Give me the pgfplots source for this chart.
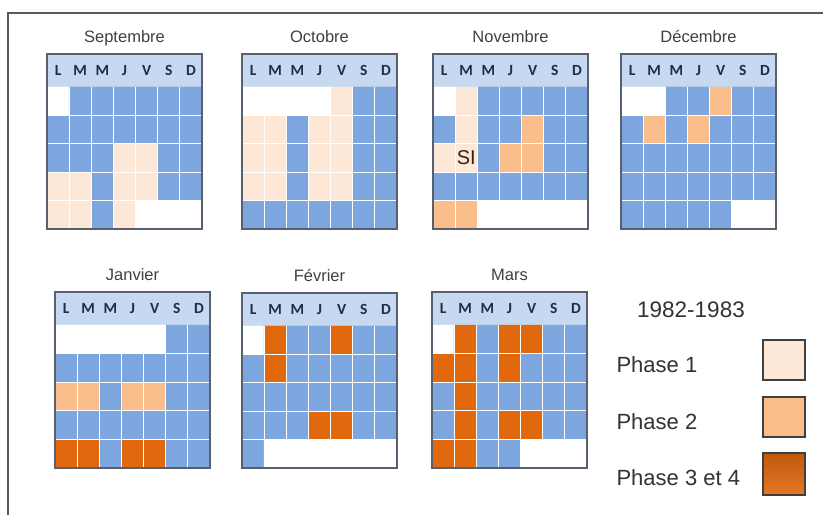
\documentclass[border=0pt]{standalone}
\usepackage{pgfplots}
\pgfplotsset{compat=1.18}
\usepackage{fontspec}
\setmainfont{Liberation Sans}
\newfontfamily\carlito{Carlito}

\definecolor{calblue}{RGB}{125,165,222}
\definecolor{hdr}{RGB}{198,217,241}
\definecolor{pone}{RGB}{253,231,214}
\definecolor{ptwo}{RGB}{250,190,140}
\definecolor{pthree}{RGB}{226,104,14}
\definecolor{boxline}{RGB}{88,96,112}
\definecolor{hdrtext}{RGB}{31,45,70}

% codes: 0 vide, 1 phase 1, 2 phase 2, 3 phase 3 et 4, 4 jour normal
\pgfplotsset{
  cal/.style={
    scale only axis, width=155pt, height=175pt,
    xmin=-0.5, xmax=6.5, ymin=-1.66, ymax=4.5, y dir=reverse,
    enlargelimits=false, xtick=\empty, ytick=\empty,
    axis on top, axis line style={draw=boxline, line width=1.4pt},
    anchor=north west,
    title style={font=\fontsize{16.5}{19}\selectfont, text=black!75,
      at={(0.5,1)}, anchor=south, text depth=3pt, yshift=-1pt},
    colormap={phases}{rgb255=(255,255,255) rgb255=(253,231,214)
      rgb255=(250,190,140) rgb255=(226,104,14) rgb255=(125,165,222)},
    colormap access=direct,
  },
  month/.style={matrix plot*, mesh/cols=7, mesh/rows=5, point meta=explicit},
}
\tikzset{hdrlbl/.style={font=\carlito\bfseries\fontsize{15.5}{17}\selectfont, text=hdrtext}}

\newcommand{\calhead}{%
  \fill[hdr] (axis cs:-0.5,-1.66) rectangle (axis cs:6.5,-0.5);
  \node[hdrlbl] at (axis cs:0,-1.08) {L};
  \node[hdrlbl] at (axis cs:1,-1.08) {M};
  \node[hdrlbl] at (axis cs:2,-1.08) {M};
  \node[hdrlbl] at (axis cs:3,-1.08) {J};
  \node[hdrlbl] at (axis cs:4,-1.08) {V};
  \node[hdrlbl] at (axis cs:5,-1.08) {S};
  \node[hdrlbl] at (axis cs:6,-1.08) {D};
}
\newcommand{\calgrid}{%
  \pgfplotsinvokeforeach{0.5,1.5,2.5,3.5,4.5,5.5}{
    \draw[white, line width=0.9pt] (axis cs:##1,-0.5) -- (axis cs:##1,4.5);}
  \pgfplotsinvokeforeach{0.5,1.5,2.5,3.5}{
    \draw[white, line width=0.9pt] (axis cs:-0.5,##1) -- (axis cs:6.5,##1);}
}

\begin{document}
\begin{tikzpicture}
\useasboundingbox (0,0) rectangle (823pt,-515pt);
\fill[white] (0,0) rectangle (823pt,-515pt);
\draw[black!65, line width=1.5pt] (8pt,-515pt) -- (8pt,-13pt) -- (823pt,-13pt);

% Septembre
\begin{axis}[cal, at={(47pt,-54pt)}, title={Septembre}]
\calhead
\addplot[month] coordinates {
(0,0)[0] (1,0)[4] (2,0)[4] (3,0)[4] (4,0)[4] (5,0)[4] (6,0)[4]
(0,1)[4] (1,1)[4] (2,1)[4] (3,1)[4] (4,1)[4] (5,1)[4] (6,1)[4]
(0,2)[4] (1,2)[4] (2,2)[4] (3,2)[1] (4,2)[1] (5,2)[4] (6,2)[4]
(0,3)[1] (1,3)[1] (2,3)[4] (3,3)[1] (4,3)[1] (5,3)[4] (6,3)[4]
(0,4)[1] (1,4)[1] (2,4)[4] (3,4)[1] (4,4)[0] (5,4)[0] (6,4)[0]
};
\calgrid
\end{axis}

% Octobre
\begin{axis}[cal, at={(242pt,-54pt)}, title={Octobre}]
\calhead
\addplot[month] coordinates {
(0,0)[0] (1,0)[0] (2,0)[0] (3,0)[0] (4,0)[1] (5,0)[4] (6,0)[4]
(0,1)[1] (1,1)[1] (2,1)[4] (3,1)[1] (4,1)[1] (5,1)[4] (6,1)[4]
(0,2)[1] (1,2)[1] (2,2)[4] (3,2)[1] (4,2)[1] (5,2)[4] (6,2)[4]
(0,3)[1] (1,3)[1] (2,3)[4] (3,3)[1] (4,3)[1] (5,3)[4] (6,3)[4]
(0,4)[4] (1,4)[4] (2,4)[4] (3,4)[4] (4,4)[4] (5,4)[4] (6,4)[4]
};
\calgrid
\end{axis}

% Novembre
\begin{axis}[cal, at={(433pt,-54pt)}, title={Novembre}]
\calhead
\addplot[month] coordinates {
(0,0)[0] (1,0)[1] (2,0)[4] (3,0)[4] (4,0)[4] (5,0)[4] (6,0)[4]
(0,1)[4] (1,1)[1] (2,1)[4] (3,1)[4] (4,1)[2] (5,1)[4] (6,1)[4]
(0,2)[1] (1,2)[1] (2,2)[4] (3,2)[2] (4,2)[2] (5,2)[4] (6,2)[4]
(0,3)[4] (1,3)[4] (2,3)[4] (3,3)[4] (4,3)[4] (5,3)[4] (6,3)[4]
(0,4)[2] (1,4)[2] (2,4)[0] (3,4)[0] (4,4)[0] (5,4)[0] (6,4)[0]
};
\calgrid
\node[font=\fontsize{20}{22}\selectfont, text={rgb,255:red,55;green,35;blue,20}] at (axis cs:1,2) {SI};
\end{axis}

% Decembre
\begin{axis}[cal, at={(621pt,-54pt)}, title={Décembre}]
\calhead
\addplot[month] coordinates {
(0,0)[0] (1,0)[0] (2,0)[4] (3,0)[4] (4,0)[2] (5,0)[4] (6,0)[4]
(0,1)[4] (1,1)[2] (2,1)[4] (3,1)[2] (4,1)[4] (5,1)[4] (6,1)[4]
(0,2)[4] (1,2)[4] (2,2)[4] (3,2)[4] (4,2)[4] (5,2)[4] (6,2)[4]
(0,3)[4] (1,3)[4] (2,3)[4] (3,3)[4] (4,3)[4] (5,3)[4] (6,3)[4]
(0,4)[4] (1,4)[4] (2,4)[4] (3,4)[4] (4,4)[4] (5,4)[0] (6,4)[0]
};
\calgrid
\end{axis}

% Janvier
\begin{axis}[cal, at={(55pt,-292pt)}, height=176pt, title={Janvier}]
\calhead
\addplot[month] coordinates {
(0,0)[0] (1,0)[0] (2,0)[0] (3,0)[0] (4,0)[0] (5,0)[4] (6,0)[4]
(0,1)[4] (1,1)[4] (2,1)[4] (3,1)[4] (4,1)[4] (5,1)[4] (6,1)[4]
(0,2)[2] (1,2)[2] (2,2)[4] (3,2)[2] (4,2)[2] (5,2)[4] (6,2)[4]
(0,3)[4] (1,3)[4] (2,3)[4] (3,3)[4] (4,3)[4] (5,3)[4] (6,3)[4]
(0,4)[3] (1,4)[3] (2,4)[4] (3,4)[3] (4,4)[3] (5,4)[4] (6,4)[4]
};
\calgrid
\end{axis}

% Fevrier
\begin{axis}[cal, at={(242pt,-293pt)}, title={Février}]
\calhead
\addplot[month] coordinates {
(0,0)[0] (1,0)[3] (2,0)[4] (3,0)[4] (4,0)[3] (5,0)[4] (6,0)[4]
(0,1)[4] (1,1)[3] (2,1)[4] (3,1)[4] (4,1)[4] (5,1)[4] (6,1)[4]
(0,2)[4] (1,2)[4] (2,2)[4] (3,2)[4] (4,2)[4] (5,2)[4] (6,2)[4]
(0,3)[4] (1,3)[4] (2,3)[4] (3,3)[3] (4,3)[3] (5,3)[4] (6,3)[4]
(0,4)[4] (1,4)[0] (2,4)[0] (3,4)[0] (4,4)[0] (5,4)[0] (6,4)[0]
};
\calgrid
\end{axis}

% Mars
\begin{axis}[cal, at={(432pt,-292pt)}, height=176pt, title={Mars}]
\calhead
\addplot[month] coordinates {
(0,0)[0] (1,0)[3] (2,0)[4] (3,0)[3] (4,0)[3] (5,0)[4] (6,0)[4]
(0,1)[3] (1,1)[3] (2,1)[4] (3,1)[3] (4,1)[4] (5,1)[4] (6,1)[4]
(0,2)[4] (1,2)[3] (2,2)[4] (3,2)[4] (4,2)[4] (5,2)[4] (6,2)[4]
(0,3)[4] (1,3)[3] (2,3)[4] (3,3)[3] (4,3)[3] (5,3)[4] (6,3)[4]
(0,4)[3] (1,4)[3] (2,4)[4] (3,4)[4] (4,4)[0] (5,4)[0] (6,4)[0]
};
\calgrid
\end{axis}

% legende
\node[font=\fontsize{22.5}{26}\selectfont, text=black!80] at (691pt,-310pt) {1982-1983};
\node[anchor=west, font=\fontsize{22}{26}\selectfont, text=black!80] at (613pt,-365pt) {Phase 1};
\node[anchor=west, font=\fontsize{22}{26}\selectfont, text=black!80] at (613pt,-422pt) {Phase 2};
\node[anchor=west, font=\fontsize{22}{26}\selectfont, text=black!80] at (613pt,-478pt) {Phase 3 et 4};
\draw[fill=pone, draw=black!75, line width=1.3pt] (763pt,-340pt) rectangle (805pt,-380pt);
\draw[fill=ptwo, draw=black!75, line width=1.3pt] (763pt,-397pt) rectangle (805pt,-437pt);
\draw[top color=pthree!85!black, bottom color=pthree!90!white, draw=black!75, line width=1.3pt] (763pt,-453pt) rectangle (805pt,-495pt);
\end{tikzpicture}
\end{document}
